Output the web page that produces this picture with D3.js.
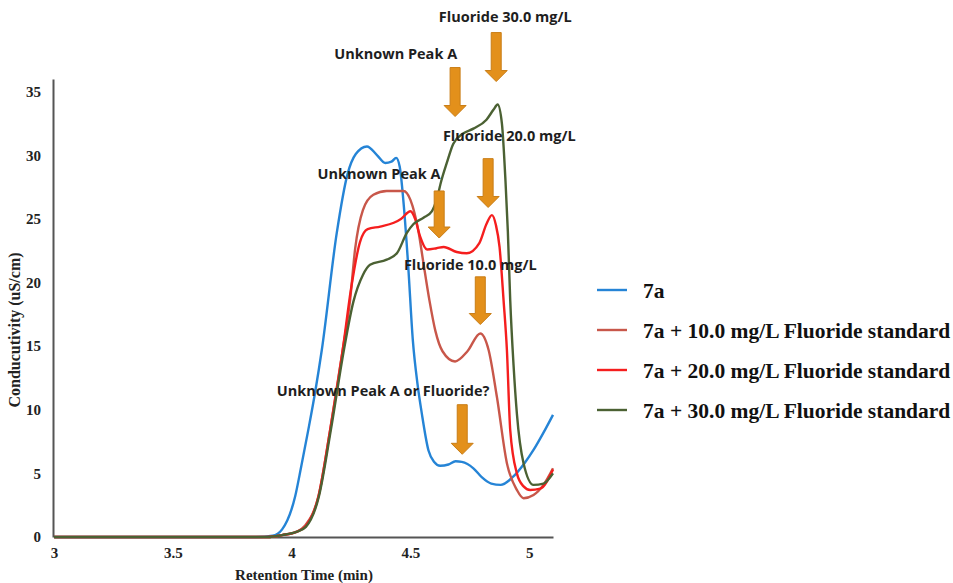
<html>
<head>
    <title>Conductivity chromatogram</title>
    <style>
        body { margin: 0; background: #fff; }
        svg { display: block; }
    </style>
</head>
<body>
    <div id="chart"></div>
    <script src="https://d3js.org/d3.v7.min.js"></script>
    <script>
        const seriesNames = [
            "7a",
            "7a + 10.0 mg/L Fluoride standard",
            "7a + 20.0 mg/L Fluoride standard",
            "7a + 30.0 mg/L Fluoride standard"
        ];
        const seriesColors = ["#2584d6", "#c8574a", "#f51e1e", "#4b6133"];

        const sample7a = [[3,0],[3.85,0],[3.92,0.1],[3.96,0.6],[4.015,3.2],[4.04,5.5],[4.07,8.4],[4.1,11.5],[4.127,14.7],[4.19,23.9],[4.235,28.5],[4.27,30.1],[4.317,30.7],[4.36,30.0],[4.394,29.4],[4.42,29.5],[4.44,29.8],[4.455,29.1],[4.47,26.5],[4.49,21.5],[4.51,15.5],[4.53,12],[4.548,9.7],[4.576,6.8],[4.6,5.9],[4.625,5.6],[4.66,5.7],[4.69,5.95],[4.716,5.9],[4.765,5.4],[4.8,4.7],[4.84,4.2],[4.88,4.1],[4.93,4.7],[4.98,5.8],[5.02,6.9],[5.06,8.2],[5.1,9.6]];
        const fluoride10 = [[3,0],[3.9,0],[3.96,0.15],[4.02,0.4],[4.057,0.9],[4.113,3.2],[4.162,8.4],[4.215,14.7],[4.246,18.6],[4.267,22.6],[4.3,25.7],[4.344,26.9],[4.4,27.2],[4.471,27.2],[4.5,26.5],[4.535,23.9],[4.555,21.5],[4.58,18.6],[4.605,16.2],[4.635,14.6],[4.688,13.8],[4.74,14.6],[4.794,16.0],[4.829,14.7],[4.864,11.0],[4.906,5.8],[4.948,3.7],[4.976,3.05],[5.018,3.3],[5.06,4.1],[5.1,5.4]];
        const fluoride20 = [[3,0],[3.9,0],[3.96,0.15],[4.02,0.4],[4.057,0.8],[4.113,3.2],[4.162,8.4],[4.215,14.7],[4.25,19.5],[4.288,23.2],[4.32,24.2],[4.373,24.4],[4.43,24.7],[4.46,25.0],[4.5,25.6],[4.52,25.0],[4.541,23.6],[4.57,22.6],[4.61,22.7],[4.64,22.8],[4.695,22.4],[4.737,22.3],[4.79,23.1],[4.82,24.6],[4.843,25.3],[4.86,24.5],[4.875,22.8],[4.892,18.6],[4.906,14.7],[4.92,8.4],[4.948,5.0],[4.975,4.0],[5.004,3.7],[5.046,3.8],[5.1,5.3]];
        const fluoride30 = [[3,0],[3.9,0],[3.96,0.15],[4.02,0.4],[4.06,0.8],[4.115,3.2],[4.165,8.4],[4.22,14.7],[4.26,18.5],[4.3,20.6],[4.33,21.4],[4.4,21.8],[4.443,22.3],[4.485,23.9],[4.513,24.6],[4.555,25.1],[4.59,25.6],[4.61,26.5],[4.63,28.0],[4.653,29.4],[4.68,30.9],[4.72,31.7],[4.765,32.1],[4.82,32.8],[4.85,33.6],[4.867,34.0],[4.885,32.5],[4.9,28],[4.91,24],[4.92,18.6],[4.934,13.5],[4.948,9.7],[4.976,5.8],[5.018,4.1],[5.06,4.2],[5.1,5.0]];

        const xTicks = [3, 3.5, 4, 4.5, 5];
        const yTicks = [0, 5, 10, 15, 20, 25, 30, 35];

        // Anotações (posição em unidades do gráfico)
        const noteTexts = ["Fluoride 30.0 mg/L", "Unknown Peak A", "Fluoride 20.0 mg/L", "Unknown Peak A", "Fluoride 10.0 mg/L", "Unknown Peak A or Fluoride?"];
        const noteT = [4.899, 4.438, 4.916, 4.368, 4.752, 4.385];
        const noteV = [40.9, 38.0, 31.55, 28.5, 21.35, 11.5];
        const arrowT = [4.861, 4.688, 4.827, 4.621, 4.794, 4.718];
        const arrowTop = [39.65, 36.9, 29.74, 27.2, 20.45, 10.4];
        const arrowTip = [35.8, 33.05, 25.9, 23.5, 16.7, 6.5];

        const W = 953, H = 583;
        const margin = {top: 79, right: 400, bottom: 46, left: 54};

        const svg = d3.select("#chart").append("svg")
            .attr("width", W)
            .attr("height", H);

        const x = d3.scaleLinear().domain([3, 5.1]).range([margin.left, 553]);
        const y = d3.scaleLinear().domain([0, 36]).range([H - margin.bottom, margin.top]);

        const serif = "'Liberation Serif', 'Times New Roman', serif";

        // Eixo Y
        const gy = svg.append("g")
            .attr("transform", `translate(${margin.left - 1},0)`)
            .call(d3.axisLeft(y).tickValues(yTicks).tickSize(0).tickPadding(12));
        gy.select(".domain").attr("stroke", "#555").attr("stroke-width", 2);
        gy.selectAll("text")
            .style("font-family", serif)
            .style("font-weight", "bold")
            .style("font-size", "15px")
            .attr("fill", "#222");

        // Eixo X
        const gx = svg.append("g")
            .attr("transform", `translate(0,${H - margin.bottom})`)
            .call(d3.axisBottom(x).tickValues(xTicks).tickSize(0).tickPadding(10).tickFormat(d3.format("")));
        gx.select(".domain").attr("stroke", "#555").attr("stroke-width", 2);
        gx.selectAll("text")
            .style("font-family", serif)
            .style("font-weight", "bold")
            .style("font-size", "15px")
            .attr("fill", "#222");

        // Títulos dos eixos
        svg.append("text")
            .attr("transform", "rotate(-90)")
            .attr("x", -330)
            .attr("y", 20)
            .attr("text-anchor", "middle")
            .style("font-family", serif)
            .style("font-weight", "bold")
            .style("font-size", "16px")
            .attr("fill", "#222")
            .text("Conducutivity (uS/cm)");

        svg.append("text")
            .attr("x", 304)
            .attr("y", 580)
            .attr("text-anchor", "middle")
            .style("font-family", serif)
            .style("font-weight", "bold")
            .style("font-size", "15px")
            .attr("fill", "#222")
            .text("Retention Time (min)");

        // Linhas
        const line = d3.line()
            .x(d => x(d[0]))
            .y(d => y(d[1]))
            .curve(d3.curveMonotoneX);

        const allSeries = [sample7a, fluoride10, fluoride20, fluoride30];
        svg.append("g")
            .selectAll("path")
            .data(allSeries)
            .join("path")
              .attr("d", line)
              .attr("fill", "none")
              .attr("stroke", (d, i) => seriesColors[i])
              .attr("stroke-width", 2.4)
              .attr("stroke-linejoin", "round");

        // Setas
        const arrows = arrowT.map((t, i) => ({t, top: arrowTop[i], tip: arrowTip[i]}));
        svg.append("g")
            .selectAll("path")
            .data(arrows)
            .join("path")
              .attr("d", d => {
                  const cx = x(d.t), y0 = y(d.top), y1 = y(d.tip);
                  const hs = 5, hh = 11, hl = 11;
                  return `M${cx - hs},${y0} L${cx + hs},${y0} L${cx + hs},${y1 - hl} L${cx + hh},${y1 - hl} L${cx},${y1} L${cx - hh},${y1 - hl} L${cx - hs},${y1 - hl} Z`;
              })
              .attr("fill", "#e3901b")
              .attr("stroke", "#c97d16")
              .attr("stroke-width", 1);

        // Textos das anotações
        svg.append("g")
            .selectAll("text")
            .data(noteTexts)
            .join("text")
              .attr("x", (d, i) => x(noteT[i]))
              .attr("y", (d, i) => y(noteV[i]))
              .attr("dy", "0.35em")
              .attr("text-anchor", "middle")
              .style("font-family", "'Open Sans', sans-serif")
              .style("font-weight", "bold")
              .style("font-size", "14.5px")
              .attr("fill", "#1e1e1e")
              .text(d => d);

        // Legenda
        const legendY = [292, 332, 372, 412];
        const legend = svg.append("g")
            .selectAll("g")
            .data(seriesNames)
            .join("g")
              .attr("transform", (d, i) => `translate(597,${legendY[i]})`);

        legend.append("line")
            .attr("x1", 0).attr("x2", 30)
            .attr("y1", -2).attr("y2", -2)
            .attr("stroke", (d, i) => seriesColors[i])
            .attr("stroke-width", 2.4);

        legend.append("text")
            .attr("x", 46)
            .attr("y", 6)
            .style("font-family", serif)
            .style("font-weight", "bold")
            .style("font-size", "21.5px")
            .attr("fill", "#111")
            .text(d => d);
    </script>
</body>
</html>
